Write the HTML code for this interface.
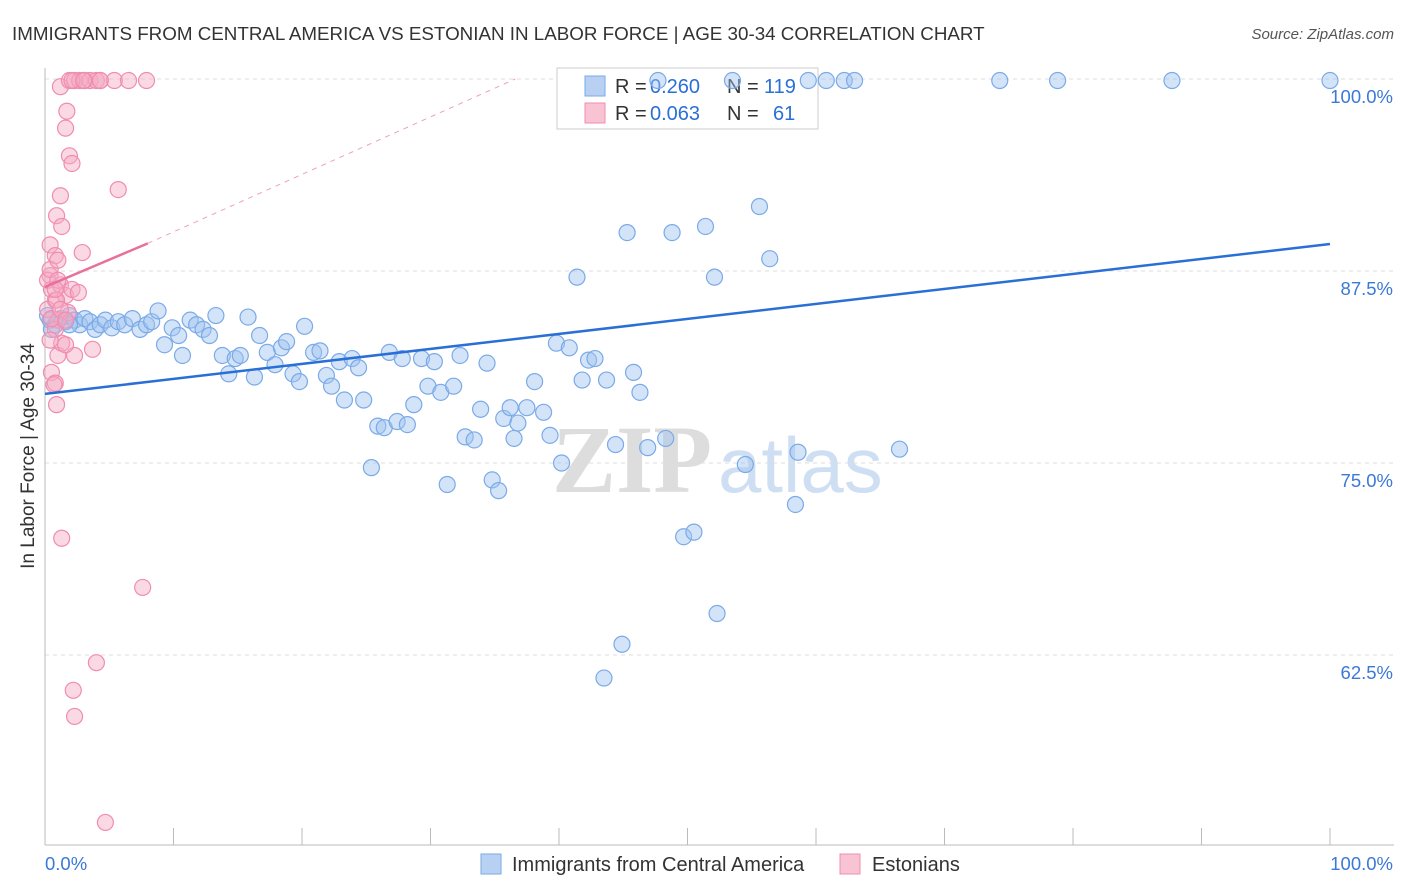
<!DOCTYPE html>
<html><head><meta charset="utf-8"><style>
body{margin:0;background:#fff;font-family:"Liberation Sans",sans-serif}
svg{display:block}
</style></head><body>
<svg id="c" width="1406" height="892">
<text x="12" y="40" font-size="18.8" fill="#333">IMMIGRANTS FROM CENTRAL AMERICA VS ESTONIAN IN LABOR FORCE | AGE 30-34 CORRELATION CHART</text>
<text x="1394" y="39" font-size="15" fill="#555" font-style="italic" text-anchor="end">Source: ZipAtlas.com</text>
<g>
<text x="552" y="492" font-size="96" fill="#ddd" font-family="Liberation Serif,serif" font-weight="bold">ZIP</text>
<text x="718" y="492" font-size="78" fill="#cfdff3">atlas</text>
</g>
<g id="grid"></g>
<g id="axes"></g>
<g>
<rect x="557" y="68" width="261" height="61" fill="#fff" stroke="#ccc"/>
<rect x="585" y="76" width="20" height="20" fill="#b8d1f3" stroke="#7aaae8"/>
<rect x="585" y="103" width="20" height="20" fill="#f8c4d4" stroke="#f08cb0"/>
<text x="615" y="93" font-size="20" fill="#333">R =</text>
<text x="650" y="93" font-size="20" fill="#2a6fd6">0.260</text>
<text x="727" y="93" font-size="20" fill="#333">N =</text>
<text x="764" y="93" font-size="20" fill="#2a6fd6">119</text>
<text x="615" y="120" font-size="20" fill="#333">R =</text>
<text x="650" y="120" font-size="20" fill="#2a6fd6">0.063</text>
<text x="727" y="120" font-size="20" fill="#333">N =</text>
<text x="773" y="120" font-size="20" fill="#2a6fd6">61</text>
</g>
<g id="marks"></g>
<text x="34" y="456" font-size="19" fill="#333" transform="rotate(-90 34 456)" text-anchor="middle">In Labor Force | Age 30-34</text>
<g>
<rect x="481" y="854" width="20" height="20" fill="#b8d1f3" stroke="#7aaae8"/>
<text x="512" y="871" font-size="20" fill="#333">Immigrants from Central America</text>
<rect x="840" y="854" width="20" height="20" fill="#f8c4d4" stroke="#f08cb0"/>
<text x="872" y="871" font-size="20" fill="#333">Estonians</text>
</g>
</svg>
<script>
const yTicks=[100,87.5,75,62.5];
const yTickLabels=["100.0%","87.5%","75.0%","62.5%"];
const xTickLabels=["0.0%","100.0%"];
const blueX=[0.4,0.8,1.2,1.6,1.9,2.3,2.7,3.1,3.5,3.9,4.3,4.7,5.2,5.7,6.2,6.8,7.4,7.9,8.3,8.8,9.3,9.9,10.4,10.7,11.3,11.8,12.3,12.8,13.3,13.8,14.3,14.8,15.2,15.8,16.3,16.7,17.3,17.9,18.4,18.8,19.3,19.8,20.2,20.9,21.4,21.9,22.3,22.9,23.3,23.9,24.4,24.8,25.4,25.9,26.4,26.8,27.4,27.8,28.2,28.7,29.3,29.8,30.3,30.8,31.3,31.8,32.3,32.7,33.4,33.9,34.4,34.8,35.3,35.7,36.2,36.5,36.8,37.5,38.1,38.8,39.3,39.8,40.2,40.8,41.4,41.8,42.3,42.8,43.7,44.4,45.3,45.8,46.3,46.9,48.3,48.8,49.7,50.5,51.4,52.1,52.3,54.5,55.6,56.4,58.6,58.4,44.9,43.5,66.5,59.4,60.8,62.2,63.0,74.3,78.8,87.7,100,53.5,47.7,0.5,0.2,1.9];
const blueY=[84.3,84.0,84.4,84.2,84.6,84.3,84.0,84.4,84.2,83.7,84.0,84.3,83.8,84.2,84.0,84.4,83.7,84.0,84.2,84.9,82.7,83.8,83.3,82.0,84.3,84.0,83.7,83.3,84.6,82.0,80.8,81.8,82.0,84.5,80.6,83.3,82.2,81.4,82.5,82.9,80.8,80.3,83.9,82.2,82.3,80.7,80.0,81.6,79.1,81.8,81.2,79.1,74.7,77.4,77.3,82.2,77.7,81.8,77.5,78.8,81.8,80.0,81.6,79.6,73.6,80.0,82.0,76.7,76.5,78.5,81.5,73.9,73.2,77.9,78.6,76.6,77.6,78.6,80.3,78.3,76.8,82.8,75.0,82.5,87.1,80.4,81.7,81.8,80.4,76.2,90.0,80.9,79.6,76.0,76.6,90.0,70.2,70.5,90.4,87.1,65.2,74.9,91.7,88.3,75.7,72.3,63.2,61.0,75.9,99.9,99.9,99.9,99.9,99.9,99.9,99.9,99.9,99.9,99.9,83.7,84.6,84.0];
const pinkX=[0.4,0.5,0.8,0.2,1.0,1.2,1.6,2.1,2.6,0.4,0.9,1.2,1.3,1.6,1.7,1.9,2.1,2.9,5.7,1.2,1.9,2.3,2.7,3.1,3.5,4.0,4.3,5.4,6.5,7.9,0.8,0.8,1.0,1.3,2.3,3.7,0.5,0.8,0.9,1.3,7.6,4.0,2.2,2.3,4.7,0.4,0.9,0.2,0.4,1.0,1.8,0.5,1.2,0.8,1.6,0.7,1.0,4.3,2.1,3.0,1.6];
const pinkY=[87.2,86.3,85.6,85.0,84.3,86.6,85.9,86.3,86.1,89.2,91.1,92.4,90.4,96.8,97.9,95.0,94.5,88.7,92.8,99.5,99.9,99.9,99.9,99.9,99.9,99.9,99.9,99.9,99.9,99.9,88.5,83.7,82.0,82.8,82.0,82.4,80.9,80.2,78.8,70.1,66.9,62.0,60.2,58.5,51.6,83.0,85.6,86.9,87.6,86.9,84.8,84.4,85.0,86.3,84.3,80.1,88.2,99.9,99.9,99.9,82.7];
const blueTrend=[[0,79.5],[100,89.26]];
const pinkTrend=[[0,86.46],[8,89.3]];
const pinkDash=[[8,89.3],[36.6,100]];

const X0=45,X1=1330,Y100=79,PXP=15.36;
const sx=v=>X0+(X1-X0)*v/100;
const sy=v=>Y100+(100-v)*PXP;
const NS="http://www.w3.org/2000/svg";
function mk(tag,attrs,parent){const e=document.createElementNS(NS,tag);for(const k in attrs)e.setAttribute(k,attrs[k]);parent.appendChild(e);return e;}
const grid=document.getElementById('grid'),axes=document.getElementById('axes'),marks=document.getElementById('marks');
yTicks.forEach((t,i)=>{
 const l=mk('line',{x1:X0,x2:1394,y1:sy(t),y2:sy(t),stroke:'#ddd','stroke-dasharray':'4,4'},grid);
 
 
 const tx=mk('text',{x:1393,y:sy(t)+24,'font-size':18.5,fill:'#3b78d8','text-anchor':'end'},grid);
 tx.textContent=yTickLabels[i];
 
 
});
let a=mk('line',{x1:X0,x2:X0,y1:68,y2:845,stroke:'#bbb'},axes);


a=mk('line',{x1:X0,x2:1394,y1:845,y2:845,stroke:'#bbb'},axes);


for(let i=0;i<=10;i++){const t=mk('line',{x1:sx(i*10),x2:sx(i*10),y1:828,y2:845,stroke:'#bbb'},axes);
 
 }
let xl=mk('text',{x:45,y:870,'font-size':18.5,fill:'#3b78d8'},axes);xl.textContent=xTickLabels[0];


xl=mk('text',{x:1393,y:870,'font-size':18.5,fill:'#3b78d8','text-anchor':'end'},axes);xl.textContent=xTickLabels[1];


function pts(xs,ys,fill,stroke,name){xs.forEach((x,i)=>{const c=mk('circle',{cx:sx(x),cy:sy(ys[i]),r:8,fill:fill,stroke:stroke,'stroke-width':1.2},marks);
 
 });}
pts(blueX,blueY,'rgba(160,196,240,0.45)','#7aaae8','blue-point');
pts(pinkX,pinkY,'rgba(245,170,195,0.45)','#f08cb0','pink-point');
let ln=mk('line',{x1:sx(pinkDash[0][0]),y1:sy(pinkDash[0][1]),x2:sx(pinkDash[1][0]),y2:sy(pinkDash[1][1]),stroke:'#f0a0bc','stroke-dasharray':'5,5','stroke-width':1},marks);


ln=mk('line',{x1:sx(blueTrend[0][0]),y1:sy(blueTrend[0][1]),x2:sx(blueTrend[1][0]),y2:sy(blueTrend[1][1]),stroke:'#2a6fd6','stroke-width':2.5},marks);


ln=mk('line',{x1:sx(pinkTrend[0][0]),y1:sy(pinkTrend[0][1]),x2:sx(pinkTrend[1][0]),y2:sy(pinkTrend[1][1]),stroke:'#e8709a','stroke-width':2.5},marks);


</script>
</body></html>
